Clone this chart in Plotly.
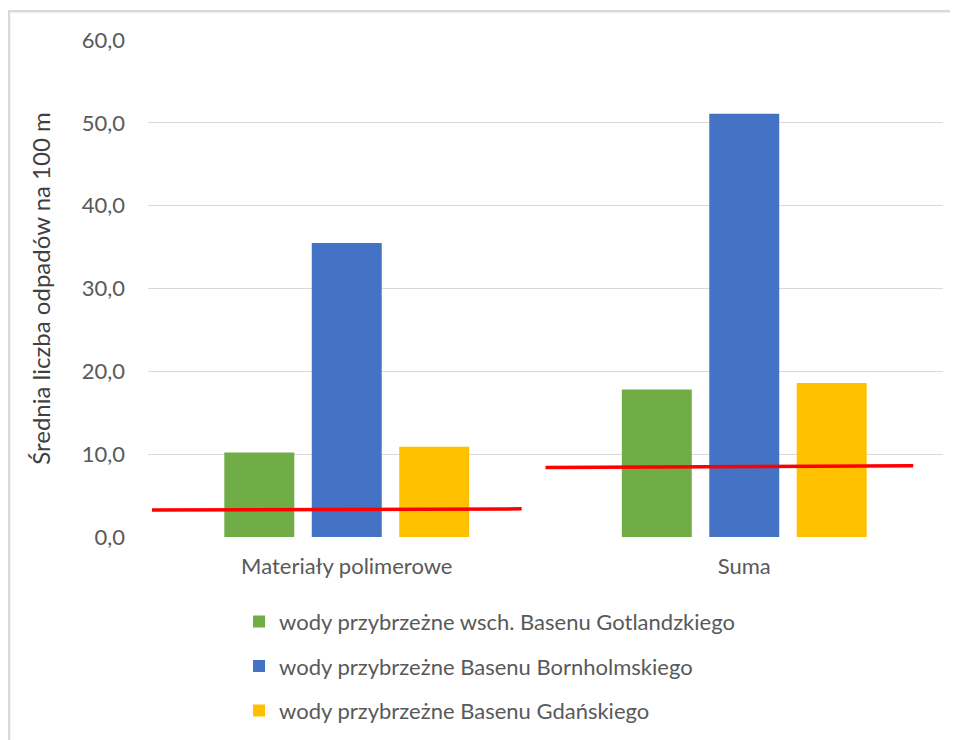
import plotly.graph_objects as go

categories = ["Materiały polimerowe", "Suma"]
series_names = [
    "wody przybrzeżne wsch. Basenu Gotlandzkiego",
    "wody przybrzeżne Basenu Bornholmskiego",
    "wody przybrzeżne Basenu Gdańskiego",
]
gotland = [10.2, 17.8]
bornholm = [35.5, 51.1]
gdansk = [10.9, 18.6]
# red reference lines (value at start, value at end) per category
ref_start = [3.25, 8.4]
ref_end = [3.4, 8.6]
y_ticks = [0, 10, 20, 30, 40, 50, 60]
y_ticktext = ["0,0", "10,0", "20,0", "30,0", "40,0", "50,0", "60,0"]

colors = ["#70ad47", "#4472c4", "#ffc000"]
FONT = "Lato"
GREY = "#595959"

x_idx = list(range(len(categories)))
fig = go.Figure()
for i, (name, vals) in enumerate(zip(series_names, [gotland, bornholm, gdansk])):
    fig.add_trace(go.Bar(
        x=x_idx, y=vals, name=name, marker=dict(color=colors[i], line=dict(width=0)),
        legendgroup=f"g{i}",
    ))

# red lines spanning each category (offsets in category units)
left_off = [-0.49, -0.50]
right_off = [0.44, 0.425]
for k in x_idx:
    fig.add_trace(go.Scatter(
        x=[k + left_off[k], k + right_off[k]], y=[ref_start[k], ref_end[k]],
        mode="lines", line=dict(color="#ff0000", width=3.5), showlegend=False,
        hoverinfo="skip",
    ))

fig.update_layout(
    width=958, height=740,
    margin=dict(l=140, r=23, t=32, b=211),
    paper_bgcolor="white", plot_bgcolor="white",
    barmode="group", bargap=0.34, bargroupgap=0.2,
    font=dict(family=FONT, color=GREY, size=22),
    showlegend=True,
    legend=dict(
        orientation="v", x=0.1145, xanchor="left", y=-0.128, yanchor="top",
        font=dict(family=FONT, size=22, color=GREY),
        tracegroupgap=13, itemwidth=30,
    ),
    xaxis=dict(
        range=[-0.5, 1.5], tickvals=x_idx, ticktext=categories,
        showgrid=False, zeroline=False, showline=False, ticks="",
        ticklabelstandoff=14,
        tickfont=dict(family=FONT, size=22, color=GREY),
    ),
    yaxis=dict(
        range=[0, 60], tickvals=y_ticks, ticktext=y_ticktext,
        showgrid=True, gridcolor="#d9d9d9", gridwidth=1,
        zeroline=False, showline=False, ticks="", ticklabelstandoff=22,
        tickfont=dict(family=FONT, size=22, color=GREY),
        title=dict(text="Średnia liczba odpadów na 100 m",
                   font=dict(family=FONT, size=24, color="#404040"), standoff=24),
    ),
    shapes=[dict(
        type="rect", xref="paper", yref="paper",
        x0=-0.1748, x1=1.2, y0=-0.6, y1=1.058,
        line=dict(color="#d9d9d9", width=2.5), fillcolor="rgba(0,0,0,0)", layer="below",
    )],
)

fig.write_html("out.html")
